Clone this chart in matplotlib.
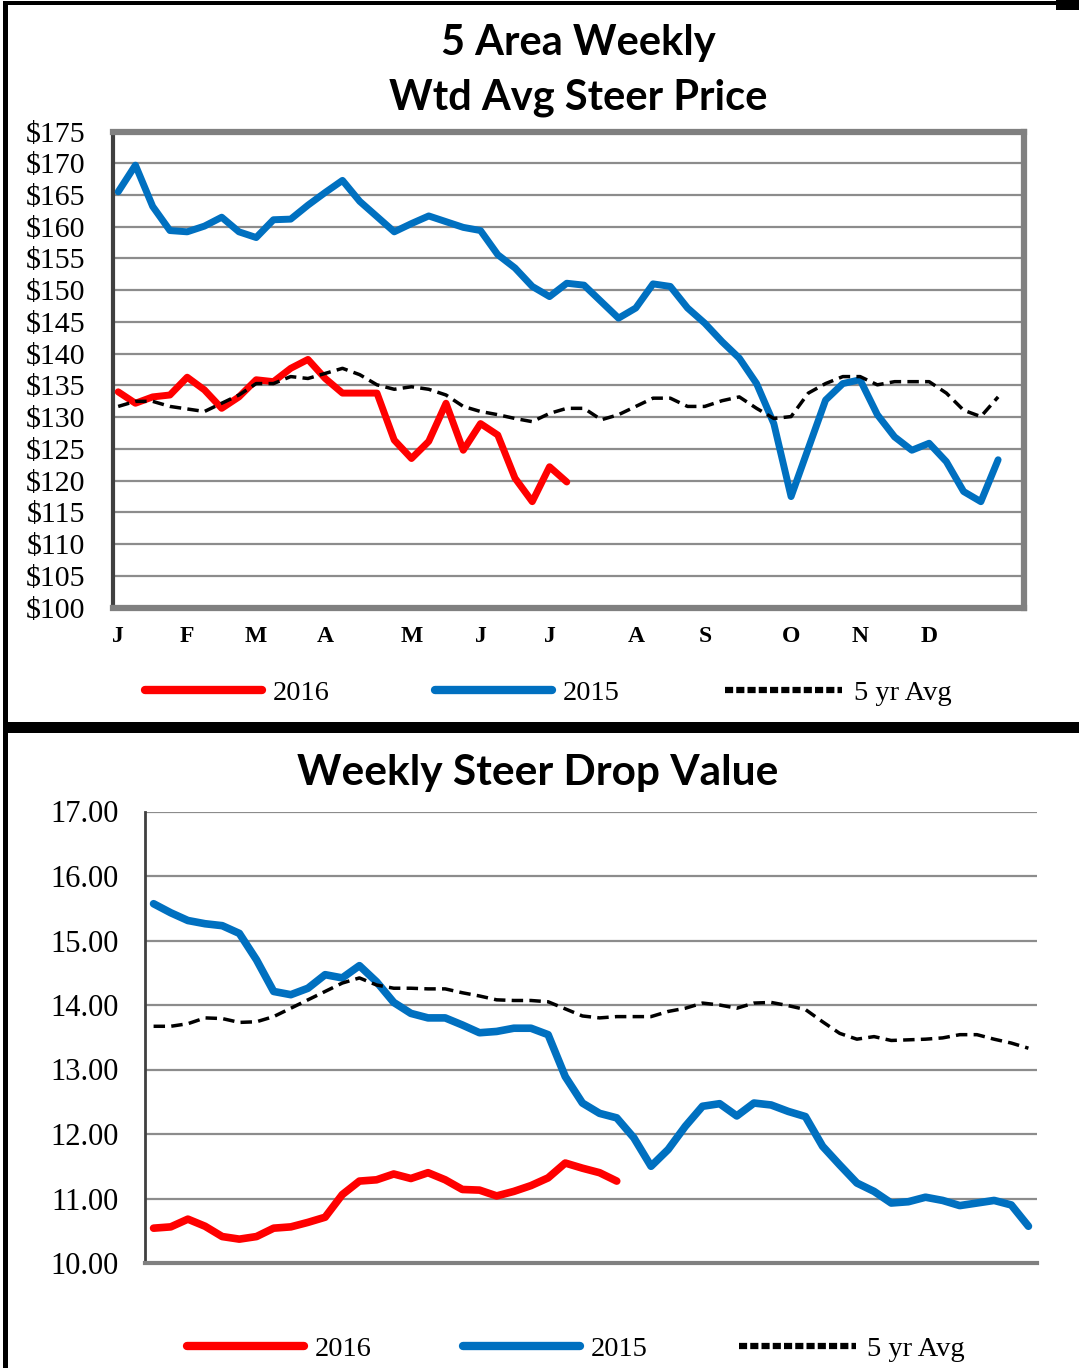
import matplotlib
matplotlib.use("Agg")
import matplotlib.pyplot as plt
from matplotlib.patches import Rectangle
import numpy as np

# ---------------- data ----------------
month_labels = ["J", "F", "M", "A", "M", "J", "J", "A", "S", "O", "N", "D"]
month_weeks = [0, 4, 8, 12, 17, 21, 25, 30, 34, 39, 43, 47]

price_2015 = [165.5, 169.7, 163.2, 159.4, 159.2, 160.1, 161.5, 159.2, 158.3, 161.1,
              161.2, 163.4, 165.4, 167.3, 164.0, 161.6, 159.2, 160.5, 161.7, 160.8,
              159.9, 159.4, 155.6, 153.5, 150.6, 149.0, 151.1, 150.8, 148.2, 145.6,
              147.2, 151.0, 150.6, 147.2, 144.8, 141.9, 139.3, 135.3, 129.0, 117.5,
              125.1, 132.7, 135.3, 135.9, 130.4, 126.9, 124.8, 125.9, 123.0, 118.3,
              116.7, 123.3]
price_2016 = [134.0, 132.2, 133.2, 133.5, 136.3, 134.3, 131.4, 133.2, 135.9, 135.6,
              137.7, 139.1, 136.1, 133.8, 133.8, 133.8, 126.4, 123.5, 126.2, 132.2,
              124.8, 129.0, 127.2, 120.4, 116.7, 122.2, 119.8]
price_avg = [131.7, 132.5, 132.5, 131.7, 131.3, 130.9, 132.2, 133.5, 135.3, 135.3,
             136.4, 136.1, 136.9, 137.7, 136.7, 135.1, 134.4, 134.8, 134.4, 133.5,
             131.7, 130.9, 130.4, 129.8, 129.3, 130.6, 131.4, 131.4, 129.6, 130.4,
             131.7, 133.0, 133.0, 131.7, 131.7, 132.6, 133.2, 131.4, 129.8, 130.1,
             133.8, 135.3, 136.4, 136.4, 135.1, 135.6, 135.6, 135.6, 133.8, 131.1,
             130.1, 133.2]

drop_2015 = [15.57, 15.43, 15.31, 15.26, 15.23, 15.11, 14.70, 14.21, 14.16, 14.26,
             14.47, 14.42, 14.61, 14.36, 14.04, 13.87, 13.80, 13.80, 13.69, 13.57,
             13.59, 13.64, 13.64, 13.54, 12.89, 12.48, 12.32, 12.25, 11.94, 11.50,
             11.76, 12.12, 12.43, 12.47, 12.28, 12.48, 12.45, 12.35, 12.27, 11.81,
             11.52, 11.24, 11.11, 10.93, 10.95, 11.02, 10.97, 10.89, 10.93, 10.97,
             10.90, 10.57]
drop_2016 = [10.54, 10.56, 10.68, 10.57, 10.41, 10.37, 10.41, 10.54, 10.56, 10.63,
             10.71, 11.06, 11.27, 11.29, 11.38, 11.31, 11.40, 11.29, 11.14, 11.13,
             11.04, 11.11, 11.20, 11.32, 11.55, 11.47, 11.40, 11.27]
drop_avg = [13.67, 13.67, 13.71, 13.80, 13.79, 13.73, 13.74, 13.82, 13.95, 14.08,
            14.21, 14.34, 14.42, 14.31, 14.26, 14.26, 14.25, 14.25, 14.19, 14.14,
            14.08, 14.07, 14.07, 14.05, 13.94, 13.83, 13.80, 13.82, 13.82, 13.82,
            13.90, 13.95, 14.03, 14.00, 13.95, 14.03, 14.04, 13.99, 13.93, 13.74,
            13.56, 13.47, 13.51, 13.45, 13.46, 13.47, 13.49, 13.54, 13.54, 13.47,
            13.41, 13.33]

price_ticks = list(range(100, 180, 5))
drop_ticks = [10, 11, 12, 13, 14, 15, 16, 17]
series_labels = ["2016", "2015", "5 yr Avg"]

# ---------------- style ----------------
RED = "#FF0000"
BLUE = "#0070C0"
SERIF = ["Liberation Serif", "DejaVu Serif"]
TITLE_FONT = ["Lato", "DejaVu Sans"]

W, H = 1079, 1368
fig = plt.figure(figsize=(W / 100, H / 100), dpi=100)
fig.patch.set_facecolor("white")


def fx(px):
    return px / W


def fy(py):
    return 1 - py / H


def box(x0, y0, x1, y1, color="black"):
    fig.add_artist(Rectangle((fx(x0), fy(y1)), fx(x1) - fx(x0), fy(y0) - fy(y1),
                             transform=fig.transFigure, facecolor=color,
                             edgecolor="none", zorder=10))


def style_legend(leg):
    for h in leg.get_lines()[:2]:
        h.set_linewidth(6)
    leg.get_lines()[2].set_linewidth(4.5)
    leg.get_lines()[2].set_dashes((1.3, 0.5))


# ---------------- top chart ----------------
ax1 = fig.add_axes([fx(113), fy(607.7), fx(1024) - fx(113), fy(131.5) - fy(607.7)])
ax1.plot(np.arange(len(price_2016)), price_2016, color=RED, lw=5.0,
         solid_joinstyle="round", solid_capstyle="round", zorder=4, label=series_labels[0])
ax1.plot(np.arange(len(price_2015)), price_2015, color=BLUE, lw=5.0,
         solid_joinstyle="round", solid_capstyle="round", zorder=3, label=series_labels[1])
ax1.plot(np.arange(len(price_avg)), price_avg, color="black", lw=2.5,
         dashes=(3.3, 1.8), zorder=5, label=series_labels[2])
ax1.set_xlim(-0.3, 52.5)
ax1.set_ylim(100, 175)
ax1.set_yticks(price_ticks)
ax1.set_yticklabels([f"${v}" for v in price_ticks], fontfamily=SERIF, fontsize=21.5)
ax1.set_xticks(month_weeks)
ax1.set_xticklabels(month_labels, fontfamily=SERIF, fontsize=17, fontweight="bold")
ax1.tick_params(axis="y", length=0, pad=20)
ax1.tick_params(axis="x", length=0, pad=13)
ax1.grid(axis="y", color="#8c8c8c", lw=1.6)
ax1.set_axisbelow(True)
for side in ["top", "right", "bottom"]:
    ax1.spines[side].set_color("#808080")
    ax1.spines[side].set_linewidth(4.5)
ax1.spines["left"].set_color("#404040")
ax1.spines["left"].set_linewidth(3)

fig.text(fx(578), fy(43), "5 Area Weekly", ha="center", va="center",
         fontfamily=TITLE_FONT, fontweight="bold", fontsize=30)
fig.text(fx(578), fy(98), "Wtd Avg Steer Price", ha="center", va="center",
         fontfamily=TITLE_FONT, fontweight="bold", fontsize=30)

leg1 = ax1.legend(loc="center", bbox_to_anchor=(fx(548), fy(693)),
                  bbox_transform=fig.transFigure, ncol=3, frameon=False,
                  prop={"family": SERIF, "size": 20.5}, handlelength=4.1,
                  handletextpad=0.4, columnspacing=3.7)
style_legend(leg1)

# ---------------- bottom chart ----------------
ax2 = fig.add_axes([fx(145), fy(1263), fx(1037) - fx(145), fy(811.5) - fy(1263)])
ax2.plot(np.arange(len(drop_2016)), drop_2016, color=RED, lw=5.5,
         solid_joinstyle="round", solid_capstyle="round", zorder=4, label=series_labels[0])
ax2.plot(np.arange(len(drop_2015)), drop_2015, color=BLUE, lw=5.5,
         solid_joinstyle="round", solid_capstyle="round", zorder=3, label=series_labels[1])
ax2.plot(np.arange(len(drop_avg)), drop_avg, color="black", lw=2.5,
         dashes=(3.3, 1.8), zorder=5, label=series_labels[2])
ax2.set_xlim(-0.5, 51.5)
ax2.set_ylim(10, 17)
ax2.set_yticks(drop_ticks)
ax2.set_yticklabels([f"{v:.2f}" for v in drop_ticks], fontfamily=SERIF, fontsize=22)
ax2.set_xticks([])
ax2.tick_params(axis="y", length=0, pad=19)
ax2.grid(axis="y", color="#8c8c8c", lw=1.6)
ax2.set_axisbelow(True)
ax2.spines["top"].set_visible(False)
ax2.spines["right"].set_visible(False)
ax2.spines["left"].set_color("#404040")
ax2.spines["left"].set_linewidth(2)
ax2.spines["bottom"].set_color("#808080")
ax2.spines["bottom"].set_linewidth(3)

fig.text(fx(538), fy(773), "Weekly Steer Drop Value", ha="center", va="center",
         fontfamily=TITLE_FONT, fontweight="bold", fontsize=30.5)

leg2 = ax2.legend(loc="center", bbox_to_anchor=(fx(576), fy(1349)),
                  bbox_transform=fig.transFigure, ncol=3, frameon=False,
                  prop={"family": SERIF, "size": 20.5}, handlelength=4.1,
                  handletextpad=0.4, columnspacing=3.2)
style_legend(leg2)

# ---------------- frame ----------------
box(3, 1, 1056, 5)          # top edge
box(1056, 0, 1079, 10)      # top right block
box(3, 1, 8, 1368)          # left edge
box(3, 722, 1079, 733)      # separator

fig.savefig("out.png", dpi=100, facecolor="white")
